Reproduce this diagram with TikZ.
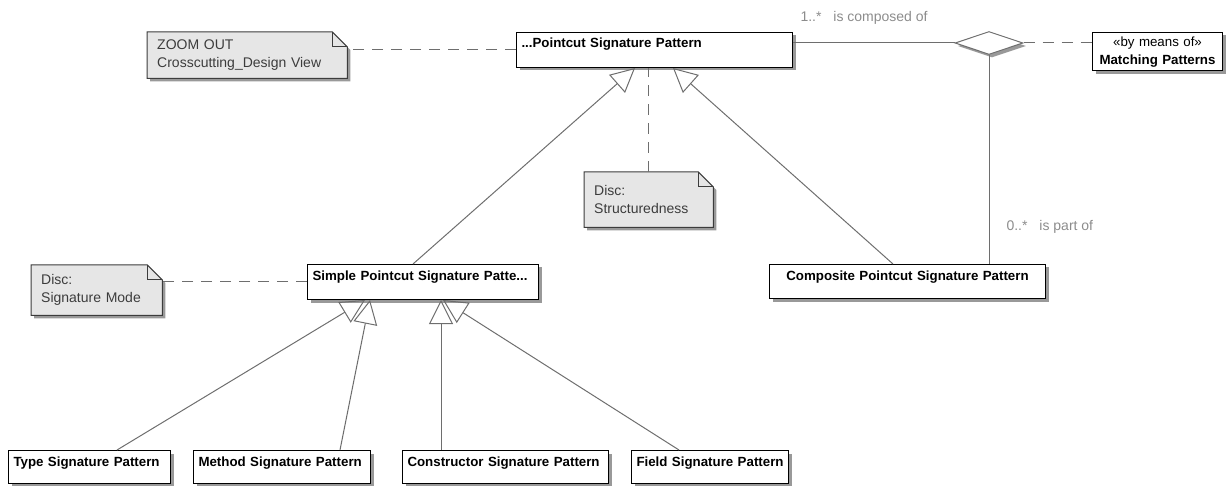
\documentclass[tikz,border=0pt]{standalone}
\usepackage{fontspec}
\setmainfont{Liberation Sans}
\usetikzlibrary{arrows.meta,shapes.geometric,shadows,backgrounds}
\definecolor{notefill}{HTML}{E6E6E6}
\definecolor{notetext}{HTML}{3C3C3C}
\definecolor{wire}{HTML}{6E6E6E}
\definecolor{lbltext}{HTML}{8C8C8C}
\newcommand{\dogear}[1]{%
  \draw[notebody] (#1.south west) -- (#1.north west) -- ([xshift=-15pt]#1.north east)
    -- ([yshift=-15pt]#1.north east) -- (#1.south east) -- cycle;
  \draw[notefold] ([xshift=-15pt]#1.north east) |- ([yshift=-15pt]#1.north east);}

\begin{document}
\begin{tikzpicture}[x=1pt,y=-1pt,
  shade3/.style={drop shadow={shadow xshift=3pt,shadow yshift=-3pt,fill=black!40,opacity=1}},
  umlbox/.style={draw=black,fill=white,line width=1pt,shade3,anchor=north west,inner xsep=5pt,inner ysep=3.5pt,font=\fontsize{13.3}{18}\selectfont\bfseries},
  cls/.style={umlbox,align=left,text height=12pt,text depth=16pt},
  note/.style={anchor=north west,inner xsep=10pt,inner ysep=0pt,align=left,text=notetext,font=\fontsize{14}{18}\selectfont},
  notebody/.style={draw=notetext,fill=notefill,line width=1pt,shade3},
  notefold/.style={draw=notetext,line width=1pt},
  lbl/.style={anchor=west,text=lbltext,font=\fontsize{14}{16}\selectfont},
  wireline/.style={draw=wire,line width=1pt},
  dashline/.style={wireline,dash pattern=on 11pt off 8pt},
  inherit/.style={wireline,-{Triangle[open,length=24pt,width=24pt]}}]

\useasboundingbox (0,0) rectangle (1231,486);

\node[cls,text width=266pt] (main) at (516,32) {...Pointcut Signature Pattern};
\node[cls,text width=221pt] (simple) at (307,264) {Simple Pointcut Signature Patte...};
\node[cls,text width=266pt,align=center,text depth=15pt] (composite) at (769,264) {Composite Pointcut Signature Pattern};
\node[umlbox,text width=120pt,align=center,inner ysep=4pt] (matching) at (1092,32) {{\mdseries «by means of»}\\Matching Patterns};
\node[diamond,draw=wire,fill=white,line width=1pt,shade3,aspect=3,minimum width=68pt,minimum height=23pt,inner sep=0pt] (rel) at (989,43) {};

\node[cls,text width=152pt,text depth=14pt] (type) at (8,450) {Type Signature Pattern};
\node[cls,text width=167pt,text depth=14pt] (method) at (193,450) {Method Signature Pattern};
\node[cls,text width=196pt,text depth=14pt] (ctor) at (402,450) {Constructor Signature Pattern};
\node[cls,text width=147pt,text depth=14pt] (field) at (631,450) {\mbox{Field Signature Pattern}};

\node[note,text width=180pt,minimum height=46pt] (zoomout) at (147,32) {ZOOM OUT\\Crosscutting\_Design View};
\node[note,text width=109pt,minimum height=55pt] (structd) at (584,172) {Disc:\\Structuredness};
\node[note,text width=111pt,minimum height=50pt] (sigmode) at (31,265) {Disc:\\Signature Mode};
\begin{scope}[on background layer]
  \dogear{zoomout}
  \dogear{structd}
  \dogear{sigmode}
\end{scope}

\node[lbl] (composedlbl) at (797,18) {1..*\hspace{8pt} is composed of};
\node[lbl] (partlbl) at (1003,227) {0..*\hspace{8pt} is part of};

\draw[dashline] (main.west) -- (zoomout.east |- main.west);
\draw[dashline] (structd.north) -- (structd.north |- main.south);
\draw[dashline] (simple.west) -- (sigmode.east |- simple.west);
\draw[wireline] (main.east |- rel.west) -- (rel.west);
\draw[dashline] (rel.east) -- (matching.west |- rel.east);
\draw[wireline] (rel.south) -- (rel.south |- composite.north);

\draw[inherit] ([xshift=106pt]simple.north west) -- ([xshift=119pt]main.south west);
\draw[inherit] ([xshift=124pt]composite.north west) -- ([xshift=157pt]main.south west);
\foreach \child/\from/\to in {type/109/58,method/147/63,ctor/39/134,field/48/136}
  \draw[inherit] ([xshift=\from pt]\child.north west) -- ([xshift=\to pt]simple.south west);

\end{tikzpicture}
\end{document}
